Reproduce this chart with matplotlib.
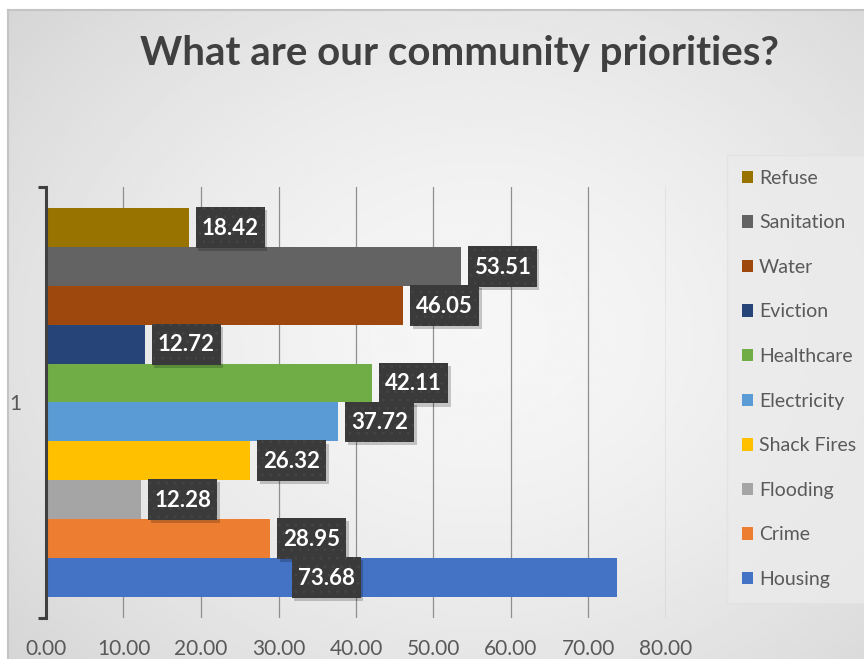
import numpy as np
import matplotlib
matplotlib.use("Agg")
import matplotlib.pyplot as plt
from matplotlib.patches import Patch, Rectangle

# ---------------- data ----------------
categories = ["Housing", "Crime", "Flooding", "Shack Fires", "Electricity",
              "Healthcare", "Eviction", "Water", "Sanitation", "Refuse"]
values = [73.68, 28.95, 12.28, 26.32, 37.72, 42.11, 12.72, 46.05, 53.51, 18.42]
colors = ["#4472C4", "#ED7D31", "#A5A5A5", "#FFC000", "#5B9BD5",
          "#70AD47", "#264478", "#9E480E", "#636363", "#997300"]
x_ticks = [0, 10, 20, 30, 40, 50, 60, 70, 80]
x_tick_labels = ["0.00", "10.00", "20.00", "30.00", "40.00",
                 "50.00", "60.00", "70.00", "80.00"]
category_label = "1"
title = "What are our community priorities?"
housing_label_x = 31.7  # label for Housing was moved inside the bar

W, H = 864, 659
plt.rcParams['font.family'] = ['Lato', 'DejaVu Sans']
plt.rcParams['hatch.linewidth'] = 0.6

fig = plt.figure(figsize=(W / 100, H / 100), dpi=100, facecolor="white")

# background with radial gradient
bg = fig.add_axes([8 / W, 0, 1 - 8 / W, 1 - 10 / H])
bg.set_axis_off()
yy, xx = np.mgrid[0:1:300j, 0:1:400j]
r = np.sqrt(((xx - 0.55) / 0.75) ** 2 + ((yy - 0.5) / 0.8) ** 2)
r = np.clip(r, 0, 1)
c0, c1 = 0.965, 0.83
img = c0 + (c1 - c0) * r ** 1.6
bg.imshow(img, cmap="gray", vmin=0, vmax=1, aspect="auto",
          extent=[0, 1, 0, 1], interpolation="bilinear")
bg.set_xlim(0, 1)
bg.set_ylim(0, 1)
fig.add_artist(plt.Line2D([8 / W, 1], [1 - 10 / H, 1 - 10 / H], color="#c4c4c4",
                          lw=1.5, transform=fig.transFigure))
fig.add_artist(plt.Line2D([8 / W, 8 / W], [0, 1 - 10 / H], color="#c4c4c4",
                          lw=1.5, transform=fig.transFigure))

# main axes
left, right, top, bottom = 46, 666, 187, 618
ax = fig.add_axes([left / W, 1 - bottom / H, (right - left) / W, (bottom - top) / H])
ax.patch.set_alpha(0)

ypos = np.arange(len(categories))
ax.barh(ypos, values, height=1.0, color=colors, zorder=3)

ax.set_xlim(0, 80)
ax.set_ylim(-1.04, len(categories) - 1 + 1.04)

ax.set_xticks(x_ticks)
ax.set_xticklabels(x_tick_labels)
ax.tick_params(axis="x", length=0, pad=15, labelsize=15, labelcolor="#595959")
ax.xaxis.grid(True, color="#8f8f8f", lw=0.9, zorder=0)
ax.set_axisbelow(True)

ax.set_yticks([-1.04, len(categories) - 1 + 1.04])
ax.set_yticklabels(["", ""])
ax.tick_params(axis="y", which="major", length=6, width=2.2, color="#404040",
               direction="out")
ax.set_yticks([(len(categories) - 1) / 2], minor=True)
ax.set_yticklabels([category_label], minor=True)
ax.tick_params(axis="y", which="minor", length=0, pad=18, labelsize=15,
               labelcolor="#595959")

for s in ["top", "right", "bottom"]:
    ax.spines[s].set_visible(False)
ax.spines["left"].set_linewidth(2.2)
ax.spines["left"].set_color("#404040")
ax.spines["left"].set_zorder(5)

# data labels (box sized in data units of this fixed scale)
gap, bw, bh = 0.9, 8.9, 1.05
for i, v in enumerate(values):
    xv = housing_label_x if categories[i] == "Housing" else v + gap
    ax.add_patch(Rectangle((xv + 0.35, i - bh / 2 - 0.08), bw, bh,
                           facecolor="black", alpha=0.2, edgecolor="none",
                           zorder=5, clip_on=False))
    ax.add_patch(Rectangle((xv, i - bh / 2), bw, bh, facecolor="#3a3a3a",
                           edgecolor="#464646", linewidth=0, hatch="..",
                           zorder=6, clip_on=False))
    ax.text(xv + bw / 2, i - 0.02, f"{v:.2f}", ha="center", va="center",
            fontsize=16, fontweight="bold", color="white", zorder=7)

# title
fig.text(460 / W, 1 - 54 / H, title, ha="center", va="center",
         fontsize=29, fontweight="bold", color="#404040")

# legend
handles = [Patch(facecolor=c, edgecolor="none") for c in colors[::-1]]
leg = fig.legend(handles, categories[::-1], loc="upper left",
                 bbox_to_anchor=(727 / W, 1 - 155 / H),
                 frameon=True, fontsize=14, labelcolor="#595959",
                 handlelength=0.6, handleheight=0.6, handletextpad=0.3,
                 labelspacing=1.42, borderpad=0.75, borderaxespad=0)
leg.get_frame().set_facecolor("#ebebeb")
leg.get_frame().set_edgecolor("#e2e2e2")
leg.get_frame().set_boxstyle("square", pad=0)
leg.get_frame().set_alpha(0.8)

fig.savefig("out.png", dpi=100, facecolor=fig.get_facecolor())
